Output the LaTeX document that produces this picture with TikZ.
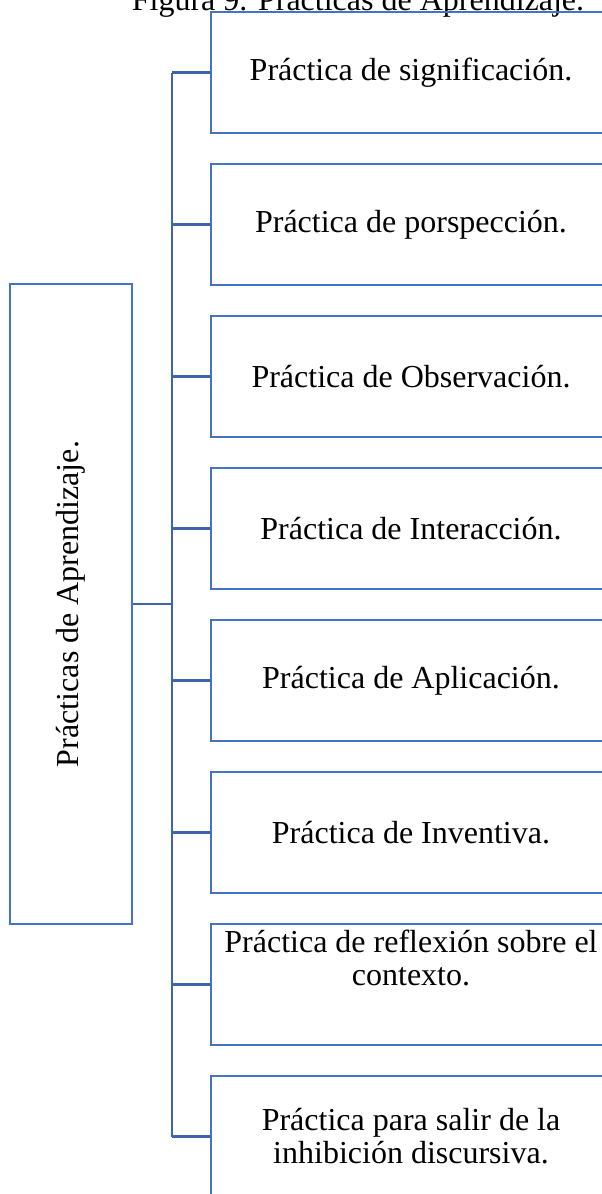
\documentclass[tikz,border=0pt]{standalone}
\usepackage{fontspec}
\setmainfont{Liberation Serif}
\definecolor{boxblue}{HTML}{4472C4}
\definecolor{lineblue}{HTML}{3E64AC}
\begin{document}
\begin{tikzpicture}[x = 1pt, y = -1pt,
    practica/.style = {draw = boxblue, line width = 2.5pt, rectangle, minimum width = 400pt,
                       minimum height = 121pt, inner sep = 0pt, align = center,
                       font = \fontsize{32}{33}\selectfont},
    conn/.style = {draw = lineblue, line width = 2.5pt}]
  \useasboundingbox (0,0) rectangle (602,1194);
  \clip (0,0) rectangle (602,1194);

  \node[anchor = base, font = \fontsize{32}{33}\selectfont] at (358,10) (title) {Figura 9. Prácticas de Aprendizaje.};

  % main box, turned so that its text reads upwards (its south side faces right)
  \node[draw = boxblue, line width = 2.5pt, rotate = 90, minimum width = 640pt, minimum height = 122pt,
        inner sep = 0pt, font = \fontsize{32}{33}\selectfont] at (71,604) (main) {Prácticas de Aprendizaje.};

  \node[practica] at (411, 72.5)  (b1) {Práctica de significación.};
  \node[practica] at (411, 224.5) (b2) {Práctica de porspección.};
  \node[practica] at (411, 376.5) (b3) {Práctica de Observación.};
  \node[practica] at (411, 528.5) (b4) {Práctica de Interacción.};
  \node[practica] at (411, 680.5) (b5) {Práctica de Aplicación.};
  \node[practica] at (411, 832.5) (b6) {Práctica de Inventiva.};
  \node[practica] at (411, 984.5) (b7) {};
  \node[anchor = north, align = center, font = \fontsize{32}{33}\selectfont, inner sep = 0pt]
        at ([yshift = -7pt] b7.north) (t7) {Práctica de reflexión sobre el\\contexto.};
  \node[practica] at (411,1136.5) (b8) {Práctica para salir de la\\inhibición discursiva.};

  \coordinate (hub) at (172,604);
  \draw[conn] (main.south) -- (hub);
  \draw[conn] (hub |- b1.west) -- (hub |- b8.west);
  \foreach \i in {1,...,8}
    \draw[conn] (hub |- b\i.west) -- (b\i.west);
\end{tikzpicture}
\end{document}
